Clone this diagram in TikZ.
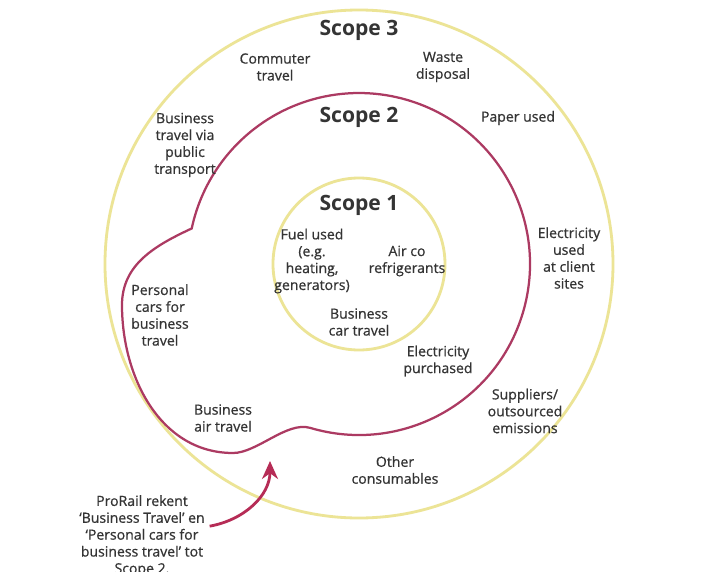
\documentclass[tikz,border=0pt]{standalone}
\usepackage{fontspec}
\setmainfont{Open Sans}
\newfontfamily\itemfont{Open Sans}[FakeBold=0.7]
\usetikzlibrary{arrows.meta}
\definecolor{ringyellow}{RGB}{236,228,150}
\definecolor{scopered}{RGB}{172,58,98}
\definecolor{arrowred}{RGB}{182,44,86}
\definecolor{labelgrey}{RGB}{52,52,52}
\begin{document}
\begin{tikzpicture}[
   ring/.style={draw=ringyellow,line width=2pt},
   scopeline/.style={draw=scopered,line width=1.6pt},
   title/.style={text=labelgrey,font=\fontsize{15}{18}\selectfont\bfseries},
   item/.style={text=labelgrey,align=center,font=\itemfont\fontsize{10}{12}\selectfont}]
\useasboundingbox[fill=white] (-8.975,-7.675) rectangle (9.225,6.6);
\coordinate (centre) at (0,0);
\draw[ring] (centre) circle[radius=6.35];
\draw[ring] (centre) circle[radius=2.15];
\draw[scopeline] (-106.6:4.275) arc[start angle=-106.6,end angle=168,radius=4.275]
   to[out=205,in=90] (-5.925,-1.025) to[out=-90,in=180] (-3.15,-4.725)
   .. controls (-2.55,-4.725) and (-1.8,-3.925) .. cycle;
\node[title] (scopethree) at (0,5.85) {Scope 3};
\node[title] (scopetwo) at (0,3.675) {Scope 2};
\node[title] (scopeone) at (0,1.475) {Scope 1};
\node[item] (commuter) at (-2.1,4.925) {Commuter\\travel};
\node[item] (waste) at (2.1,4.925) {Waste\\disposal};
\node[item] (paper) at (3.975,3.65) {Paper used};
\node[item] (publictransport) at (-4.35,2.975) {Business\\travel via\\public\\transport};
\node[item] (fuel) at (-1.175,0.075) {Fuel used\\(e.g.\\heating,\\generators)};
\node[item] (airco) at (1.2,0.075) {Air co\\refrigerants};
\node[item] (cartravel) at (0,-1.45) {Business\\car travel};
\node[item] (electricity) at (1.975,-2.425) {Electricity\\purchased};
\node[item] (clientsites) at (5.25,0.15) {Electricity\\used\\at client\\sites};
\node[item] (suppliers) at (4.15,-3.675) {Suppliers/\\outsourced\\emissions};
\node[item] (consumables) at (0.9,-5.15) {Other\\consumables};
\node[item] (personalcars) at (-4.975,-1.275) {Personal\\cars for\\business\\travel};
\node[item] (airtravel) at (-3.4,-3.85) {Business\\air travel};
\node[item] (note) at (-5.425,-6.8) {ProRail rekent\\‘Business Travel’ en\\‘Personal cars for\\business travel’ tot\\Scope 2.};
\coordinate (arrowtip) at (-2.225,-4.925);
\draw[arrowred,line width=2pt,-{Stealth[length=4.5mm,width=4mm]}] ([yshift=7pt]note.east) to[out=10,in=-90] (arrowtip);
\end{tikzpicture}
\end{document}
